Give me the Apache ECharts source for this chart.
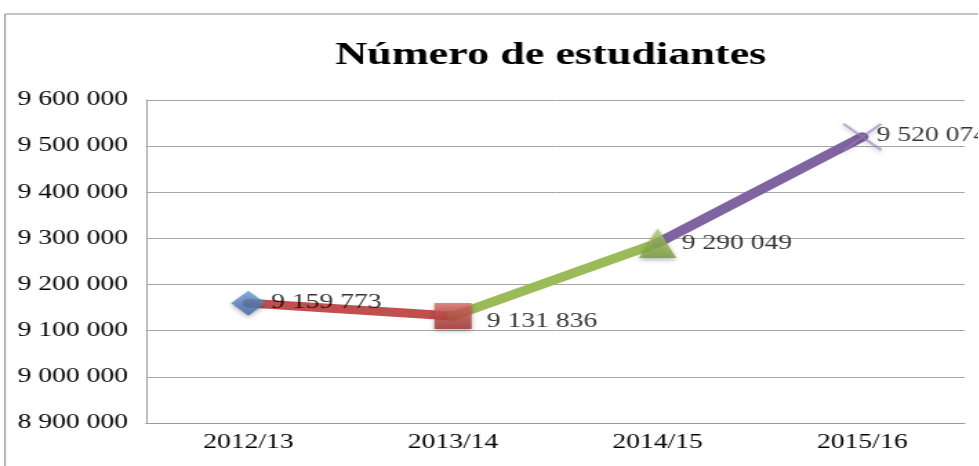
<!DOCTYPE html>
<html>
<head>
<meta charset="utf-8">
<title>Número de estudiantes</title>
<script src="https://cdn.jsdelivr.net/npm/echarts@6/dist/echarts.min.js"></script>
<style>
  html, body { margin: 0; padding: 0; background: #fff; overflow: hidden; }
  /* the reference is stretched horizontally, so the chart is drawn narrow and widened */
  #main { width: 709px; height: 466px; transform: scaleX(1.38); transform-origin: 0 0; }
</style>
</head>
<body>
<div id="main"></div>
<script>
// datos
var categories = ['2012/13', '2013/14', '2014/15', '2015/16'];
var students = [9159773, 9131836, 9290049, 9520074];
var yMin = 8900000;
var yMax = 9600000;
var yStep = 100000;

// estilos de los marcadores y tramos
var markerSymbols = [
    'diamond',
    'rect',
    'triangle',
    'path://M0,1.5L1.5,0L28,25.5L26.5,27ZM26.5,0L28,1.5L1.5,27L0,25.5Z'
];
var markerSizes = [[25, 25], [27, 26], [27, 30], [29, 28]];
var markerColors = [
    new echarts.graphic.LinearGradient(0, 0, 0, 1, [{offset: 0, color: '#6f9cd6'}, {offset: 1, color: '#3b67a3'}]),
    new echarts.graphic.LinearGradient(0, 0, 0, 1, [{offset: 0, color: '#de6a66'}, {offset: 1, color: '#a2302d'}]),
    new echarts.graphic.LinearGradient(0, 0, 0, 1, [{offset: 0, color: '#b3d172'}, {offset: 1, color: '#789a36'}]),
    'rgba(150,125,190,0.75)'
];
var segColors = ['#c0504d', '#9bbb59', '#8064a2'];
var labelDist = [4, 11, 4, -4];
var labelOffset = [[0, 0], [0, 6], [0, 1], [0, -1]];

function fmt(v) {
    return String(v).replace(/\B(?=(\d{3})+(?!\d))/g, ' ');
}

var series = [];
// un tramo de linea por cada par de puntos
for (var i = 0; i < students.length - 1; i++) {
    series.push({
        type: 'line',
        data: students.map(function (v, j) { return (j === i || j === i + 1) ? v : '-'; }),
        showSymbol: false,
        silent: true,
        z: 2,
        lineStyle: { color: segColors[i], width: 9, cap: 'round' }
    });
}
// marcadores con etiquetas
series.push({
    type: 'scatter',
    z: 3,
    data: students.map(function (v, i) {
        return {
            value: v,
            symbol: markerSymbols[i],
            symbolSize: markerSizes[i],
            itemStyle: {
                color: markerColors[i],
                shadowBlur: 4,
                shadowColor: 'rgba(0,0,0,0.35)',
                shadowOffsetY: 2
            },
            label: {
                show: true,
                position: 'right',
                distance: labelDist[i],
                offset: labelOffset[i],
                formatter: function (p) { return fmt(p.value); },
                fontFamily: 'Liberation Serif',
                fontSize: 20,
                color: '#000'
            }
        };
    })
});

var myChart = echarts.init(document.getElementById('main'));
myChart.setOption({
    animation: false,
    title: {
        text: 'Número de estudiantes',
        left: 238,
        top: 35,
        textStyle: {
            fontFamily: 'Liberation Serif',
            fontWeight: 'bold',
            fontSize: 32,
            color: '#000'
        }
    },
    graphic: [{
        type: 'rect',
        shape: { x: 3.6, y: 14, width: 800, height: 500 },
        style: { fill: 'none', stroke: '#8c8c8c', lineWidth: 1 },
        silent: true
    }],
    grid: { left: 105.8, right: 10, top: 100, bottom: 43 },
    xAxis: {
        type: 'category',
        data: categories,
        boundaryGap: true,
        axisTick: { show: false },
        axisLine: { lineStyle: { color: '#9a9a9a', width: 1 } },
        axisLabel: {
            margin: 10,
            fontFamily: 'Liberation Serif',
            fontSize: 20,
            color: '#000'
        }
    },
    yAxis: {
        type: 'value',
        min: yMin,
        max: yMax,
        interval: yStep,
        axisLine: { show: true, lineStyle: { color: '#9a9a9a', width: 1 } },
        axisTick: { show: false },
        splitLine: { lineStyle: { color: '#a6a6a6', width: 1 } },
        axisLabel: {
            margin: 13,
            fontFamily: 'Liberation Serif',
            fontSize: 20,
            color: '#000',
            formatter: fmt
        }
    },
    series: series
});
</script>
</body>
</html>
